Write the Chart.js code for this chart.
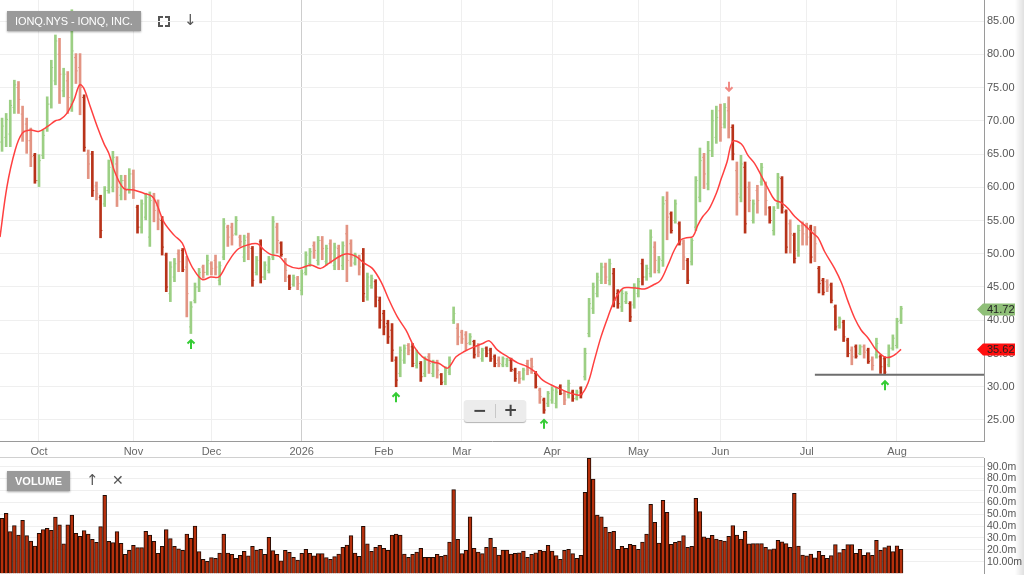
<!DOCTYPE html>
<html>
<head>
<meta charset="utf-8">
<title>IONQ.NYS - IONQ, INC.</title>
<script src="https://cdn.jsdelivr.net/npm/chart.js@4.4.1/dist/chart.umd.min.js"></script>
<style>
  html, body { margin: 0; padding: 0; background: #fff; overflow: hidden; }
  body { width: 1024px; height: 575px; font-family: "Liberation Sans", Arial, sans-serif; }
  #wrap { position: relative; width: 1024px; height: 575px; }
  #priceCanvas { position: absolute; left: 0; top: 0; }
  #volCanvas { position: absolute; left: 0; top: 458px; }
  .badge {
    position: absolute; background: #9a9a9a; color: #fff; font-size: 11px; letter-spacing: -0.1px;
    height: 20px; line-height: 20px; padding: 0 8px;
    box-shadow: 0 1px 2px rgba(0,0,0,0.35);
  }
  .icon { position: absolute; color: #555; font-family: "DejaVu Sans", sans-serif; }
  .corner { position: absolute; width: 3px; height: 3px; border-color: #555; border-style: solid; border-width: 0; }
  #zoomBox {
    position: absolute; left: 464px; top: 400px; width: 62px; height: 22px;
    background: #ececec; border-radius: 3px; box-shadow: 0 1px 1px rgba(0,0,0,0.3);
    font-family: "DejaVu Sans", sans-serif; font-weight: bold; color: #444; font-size: 17px;
  }
  #zoomBox span { position: absolute; top: -1px; width: 31px; text-align: center; line-height: 22px; }
  #zoomBox i { position: absolute; left: 31px; top: 4px; width: 1px; height: 14px; background: #c8c8c8; }
  #sep { position: absolute; left: 0; top: 457px; width: 984px; height: 1px; background: #d0d0d0; }
  #edge { position: absolute; left: 1015px; top: 0; width: 9px; height: 575px;
          background: linear-gradient(to right, rgba(0,0,0,0), rgba(0,0,0,0.12)); }
</style>
</head>
<body>
<div id="wrap">
  <canvas id="priceCanvas" width="1024" height="458"></canvas>
  <canvas id="volCanvas" width="1024" height="117"></canvas>
  <div id="sep"></div>
  <div id="edge"></div>

  <div class="badge" style="left:7px; top:11px;">IONQ.NYS - IONQ, INC.</div>
  <div class="corner" style="left:158px; top:16px; border-left-width:2px; border-top-width:2px;"></div>
  <div class="corner" style="left:165px; top:16px; border-right-width:2px; border-top-width:2px;"></div>
  <div class="corner" style="left:158px; top:22px; border-left-width:2px; border-bottom-width:2px;"></div>
  <div class="corner" style="left:165px; top:22px; border-right-width:2px; border-bottom-width:2px;"></div>
  <div class="icon" style="left:184px; top:11px; font-size:15px;">↓</div>

  <div id="zoomBox"><span style="left:0;">−</span><i></i><span style="left:31px;">+</span></div>

  <div class="badge" style="left:7px; top:471px; font-weight:bold; letter-spacing:0;">VOLUME</div>
  <div class="icon" style="left:86px; top:471px; font-size:15px;">↑</div>
  <div class="icon" style="left:112px; top:472px; font-size:14px;">✕</div>
</div>

<script>
// ---------- data ----------
// bars are indexed by trading day, 0 = 18 Sep 2025 ... 219 = 4 Aug 2026
const monthIdx = [9, 32, 51, 73, 93, 112, 134, 155, 175, 196, 218];
const monthLabels = ['Oct', 'Nov', 'Dec', '2026', 'Feb', 'Mar', 'Apr', 'May', 'Jun', 'Jul', 'Aug'];

const priceTicks = [25, 30, 35, 40, 45, 50, 55, 60, 65, 70, 75, 80, 85];
const volTicks = [10, 20, 30, 40, 50, 60, 70, 80, 90];
const volTickLabels = ['10.00m', '20.0m', '30.0m', '40.0m', '50.0m', '60.0m', '70.0m', '80.0m', '90.0m'];

const high = [
  70.4,71.1,73.1,76.1,75.9,72.2,70.4,68.9,65.1,64.9,
  68.6,73.6,79.1,82.9,82.4,77.9,77.4,86.7,80.1,80.1,
  73.9,65.6,65.4,60.8,58.8,60.1,64.1,65.4,64.6,61.8,
  61.8,62.8,62.6,57.3,58.1,59.1,59.3,59.1,58.1,55.6,
  50.1,48.8,49.3,50.6,50.8,49.6,42.8,45.6,47.8,48.3,
  49.8,48.8,49.8,48.8,55.3,54.3,54.6,55.6,52.8,52.8,
  53.1,51.1,49.6,52.1,48.8,49.6,55.6,54.6,51.8,49.3,
  46.8,46.8,46.6,47.6,50.3,50.8,51.8,52.6,52.6,51.3,
  52.1,51.6,51.3,51.8,54.3,52.1,50.1,49.8,50.8,47.1,
  46.8,46.1,43.5,41.5,40.0,39.5,34.5,36.0,36.3,36.5,
  36.5,35.5,33.8,34.5,35.0,34.0,34.0,32.0,33.0,34.5,
  42.0,39.5,38.5,38.3,38.0,37.0,36.5,35.8,36.0,35.8,
  34.8,34.5,34.5,34.3,34.3,32.8,32.3,32.8,34.0,34.3,
  32.3,29.8,28.3,29.3,30.0,29.8,30.3,29.3,31.0,29.5,
  29.5,30.0,35.8,43.3,45.6,47.1,48.6,48.6,49.2,47.8,
  44.6,44.6,44.3,42.8,45.5,46.3,49.2,48.3,53.6,51.8,
  49.6,58.6,59.3,56.3,58.1,54.8,52.1,49.3,52.3,61.6,
  65.9,65.1,66.9,71.6,72.2,72.5,72.6,73.6,69.4,63.8,
  64.8,63.8,60.8,58.1,60.3,63.6,60.8,57.1,57.1,62.1,
  61.6,56.6,55.1,53.1,54.3,54.8,54.6,54.3,54.1,48.1,
  46.3,46.1,45.6,42.3,40.5,40.0,37.3,36.0,36.3,36.3,
  36.3,35.8,34.5,37.3,34.8,34.5,36.3,37.8,40.3,42.1
];
const low = [
  65.4,66.1,66.1,71.1,71.1,66.9,65.1,63.1,60.6,60.1,
  64.3,68.4,71.9,75.4,72.6,73.6,71.1,71.4,75.6,70.9,
  65.4,61.3,58.6,58.1,52.4,57.1,59.1,59.3,57.1,58.1,
  58.1,59.1,58.3,53.1,53.1,55.1,51.1,54.8,53.6,49.8,
  44.3,42.8,45.8,47.3,47.3,40.5,38.0,42.6,44.3,46.3,
  46.8,46.8,46.8,45.3,49.1,51.1,51.3,52.8,51.1,48.8,
  49.1,45.1,46.8,45.6,46.1,47.1,49.1,50.1,49.6,45.8,
  44.6,45.1,44.6,43.8,46.8,48.1,49.3,48.3,49.1,48.3,
  48.6,47.6,47.6,47.6,45.8,48.1,48.3,46.8,42.8,43.0,
  44.8,42.0,38.8,37.8,36.5,33.8,30.0,31.5,33.5,34.8,
  33.0,32.8,30.8,31.5,32.0,31.5,31.3,30.3,30.3,31.8,
  39.5,36.3,36.5,35.5,36.3,34.3,34.5,33.8,34.5,33.8,
  33.0,33.0,33.0,33.0,32.3,30.8,30.5,31.0,31.8,32.0,
  29.8,27.5,26.0,27.0,27.5,26.8,28.8,27.3,28.3,27.8,
  28.0,28.3,31.0,37.5,41.0,43.5,45.5,45.5,45.3,42.0,
  41.8,41.3,42.5,39.8,41.8,43.5,45.3,46.0,46.5,47.1,
  47.1,48.1,52.1,53.1,54.6,51.3,47.6,45.5,48.3,53.5,
  57.8,59.8,59.6,64.6,66.6,66.9,68.9,67.4,64.1,55.8,
  57.8,53.1,56.3,54.6,56.1,60.3,55.8,54.6,52.8,56.8,
  56.1,50.1,50.1,48.6,49.6,51.3,51.3,48.6,48.8,44.1,
  43.8,44.3,42.6,38.5,38.8,36.8,34.5,33.3,34.3,34.8,
  34.3,33.5,32.5,34.3,32.0,31.8,33.0,35.5,35.8,39.5
];
const open = [
  66.8,67.5,68.0,72.0,75.0,71.0,69.5,67.0,64.8,61.0,
  64.8,68.8,72.5,76.0,80.0,74.5,76.0,72.5,79.5,78.0,
  73.5,65.0,65.0,60.2,58.5,57.5,59.5,60.0,63.5,58.8,
  61.0,59.8,62.0,57.0,54.0,55.5,52.5,58.5,57.2,55.0,
  49.8,44.0,46.5,50.0,50.5,48.0,39.0,43.0,45.0,48.0,
  47.2,48.5,49.0,46.0,49.5,54.0,54.0,53.0,52.5,49.5,
  52.5,50.8,47.2,51.8,46.5,47.5,49.5,54.0,51.6,48.8,
  46.5,45.4,46.2,44.5,47.2,48.5,51.2,49.0,52.0,48.8,
  51.5,48.2,50.8,48.2,53.0,51.5,48.6,49.5,50.0,43.5,
  45.2,45.8,43.0,41.0,39.5,38.5,34.0,32.0,34.0,36.2,
  36.0,33.2,33.5,32.0,34.5,32.0,33.5,31.8,30.8,32.2,
  40.0,38.8,38.2,37.8,36.6,36.8,36.0,34.2,35.8,35.5,
  34.5,34.0,33.3,33.3,34.0,32.5,32.0,31.3,33.5,34.0,
  32.0,29.5,28.0,27.5,28.0,27.5,30.0,29.0,28.8,29.2,
  28.3,29.8,31.5,38.0,41.8,44.0,46.0,48.0,46.0,47.0,
  44.0,42.0,42.8,42.5,42.3,44.0,48.5,46.5,47.0,51.0,
  47.5,49.0,58.0,56.0,55.0,54.5,51.5,49.0,48.8,54.0,
  58.5,64.5,60.5,65.5,67.5,71.5,69.5,71.5,69.0,62.5,
  58.5,63.0,60.0,55.0,59.5,60.8,60.5,56.9,53.5,57.5,
  61.3,56.3,54.5,52.8,50.5,54.2,54.0,54.0,53.5,47.8,
  46.0,45.8,45.3,42.0,39.2,39.7,37.0,35.5,36.0,35.0,
  36.0,35.5,34.0,34.8,34.5,34.2,33.3,35.8,36.2,40.0
];
const close = [
  69.2,70.2,72.3,75.4,73.2,68.5,67.0,64.6,61.0,64.0,
  67.8,72.5,78.0,82.0,77.0,77.0,73.5,80.5,77.5,75.0,
  66.0,63.5,59.5,59.0,53.5,59.5,63.0,64.5,60.0,61.0,
  59.5,62.0,60.0,54.0,57.5,58.5,58.0,56.5,55.2,51.0,
  45.0,48.0,48.5,48.8,47.6,44.0,42.0,45.0,47.2,47.2,
  49.0,47.8,48.0,48.2,54.5,52.5,52.8,55.0,51.8,52.0,
  51.0,46.0,49.0,46.5,48.3,49.2,54.8,52.0,49.9,47.5,
  44.9,46.4,45.5,47.0,49.8,50.3,50.5,52.0,50.8,50.8,
  50.0,51.0,49.5,51.2,49.0,49.5,49.8,48.0,44.0,46.5,
  46.3,43.5,40.0,39.0,37.5,35.5,31.0,35.5,35.8,35.5,
  33.5,35.0,31.5,34.0,33.5,33.5,32.5,30.6,32.5,34.0,
  41.0,37.5,37.2,36.5,37.5,34.8,35.2,35.5,35.0,34.2,
  33.5,33.5,34.2,34.0,32.6,31.2,31.2,32.5,32.5,33.0,
  30.0,28.5,26.5,29.0,29.5,29.2,29.0,28.0,30.5,28.2,
  29.2,28.8,35.0,42.5,45.0,46.5,48.0,46.5,48.5,43.0,
  42.5,44.0,44.0,40.5,45.0,45.8,46.5,47.8,52.5,49.0,
  49.2,57.5,55.5,53.5,57.5,51.8,49.5,46.0,52.0,61.0,
  64.0,62.0,65.5,70.0,70.5,69.0,72.0,69.0,65.0,59.0,
  63.5,54.5,58.0,57.5,58.0,63.0,58.0,55.0,56.5,61.5,
  57.0,51.0,53.0,49.3,53.5,53.0,52.5,49.5,51.5,45.5,
  44.2,45.0,43.0,39.0,40.2,37.5,35.0,34.5,34.6,36.0,
  35.2,33.8,33.2,36.5,33.0,32.2,35.8,37.3,39.8,41.72
];
// volume in millions
const volume = [
  46.5,50.7,35.3,40.3,32.4,44.8,31.9,27.4,23.2,33.9,
  36.9,38.1,36.4,47.6,40.9,24.9,40.9,49.3,33.9,31.3,
  36.1,33.3,28.8,26.3,39.5,65.8,27.1,26.0,35.3,25.4,
  16.2,19.5,23.7,21.8,21.8,35.5,32.4,27.1,17.0,22.9,
  36.9,29.4,22.9,20.7,19.5,33.3,29.6,40.0,18.4,12.0,
  10.3,13.4,12.8,17.3,33.3,17.3,16.2,12.8,15.3,18.7,
  14.8,22.9,19.8,20.4,16.2,30.5,19.3,16.2,10.6,19.5,
  17.8,13.6,11.4,17.0,20.4,17.0,14.8,16.7,16.7,13.4,
  12.0,14.2,16.4,22.0,24.0,31.9,17.3,14.4,39.7,24.9,
  18.7,22.1,23.7,21.2,19.5,32.4,33.3,32.4,16.4,13.6,
  16.2,18.1,21.2,13.6,13.6,13.6,16.2,14.4,15.6,26.5,
  70.6,28.8,16.7,19.5,47.8,21.2,18.1,16.7,22.1,29.6,
  22.1,15.6,19.8,19.8,16.4,17.0,17.5,18.9,13.6,16.2,
  17.5,19.5,18.9,23.7,18.9,15.0,12.0,19.5,20.4,16.7,
  12.8,15.3,68.4,97.0,79.6,49.3,47.8,38.9,34.7,35.5,
  20.4,22.9,21.2,24.6,23.7,20.4,26.5,33.3,58.3,43.1,
  25.7,61.7,51.5,24.6,26.3,27.4,31.9,22.1,22.9,63.3,
  52.1,30.8,29.9,32.2,29.1,28.0,27.4,31.3,40.3,32.4,
  29.1,35.5,24.9,25.2,25.2,25.2,22.1,20.1,20.7,28.0,
  26.6,25.2,22.1,67.5,23.2,15.6,14.8,16.4,13.1,18.7,
  15.3,12.8,15.0,24.3,17.6,20.4,24.3,24.3,17.0,20.4,
  15.3,17.6,15.3,28.0,19.5,21.8,23.4,18.4,23.4,20.4
];

// moving average line, read at selected points (x = bar index)
const maIdx = [
  -0.5, 1.2, 3.2, 4.9, 6.9, 8.9, 11, 13, 14.2, 15.8, 17.5, 18.9, 19.9, 21.5, 23.2, 24.8, 26, 27.6, 29.7, 32.1,
  34.5, 36.6, 37.8, 39.4, 41.9, 43.9, 45.1, 46.7, 48.8, 50.8, 52.8, 54.9, 57.3, 59.7, 62.2, 63.8, 65.4, 67.5, 69.5, 72.3,
  75.2, 77.6, 79.7, 82.5, 84.1, 86.2, 88.2, 90.2, 92.3, 94.3, 96.3, 98.4, 100.4, 102.4, 104.5, 106.5, 108.5, 110.6, 112.6, 115,
  117.1, 118.7, 120.7, 123.2, 125.6, 127.7, 129.7, 131.7, 133.7, 136.2, 138.6, 141, 142.7, 144.3, 145.9, 147.6, 149.2, 151.2, 153.3, 154.9,
  156.5, 158.6, 160.4, 162.2, 163.8, 165.4, 166.7, 168.3, 169.5, 170.7, 172.2, 174, 175.2, 176.6, 178, 180.1, 181.7, 183.3, 184.9, 186.6,
  188.2, 189.8, 191.5, 193.1, 195.5, 197.5, 198.8, 200.4, 202.8, 204.5, 206.1, 207.7, 209.3, 211, 212.6, 214.2, 215.4, 216.6, 217.9, 219
];
const maVal = [
  52.5, 60.1, 65.6, 68.1, 68.6, 68.4, 69.1, 70.0, 70.2, 71.1, 73.1, 75.4, 74.9, 72.1, 69.1, 66.6, 65.1, 62.1, 59.8, 59.6,
  59.1, 58.6, 57.3, 54.8, 52.8, 51.6, 49.6, 47.6, 46.1, 46.5, 46.5, 48.6, 50.6, 51.3, 51.5, 50.6, 49.9, 49.6, 48.3, 47.8,
  48.3, 47.8, 48.6, 49.7, 50.0, 49.6, 48.6, 47.8, 45.8, 43.0, 40.5, 38.5, 36.0, 34.5, 33.8, 33.5, 32.8, 34.5, 35.3, 36.0,
  36.5, 36.9, 35.5, 34.5, 33.6, 33.1, 32.3, 31.0, 30.3, 29.6, 29.0, 28.8, 30.5, 34.0, 37.5, 40.5, 43.0, 44.8, 44.9, 44.8,
  44.7, 45.3, 46.0, 48.3, 50.6, 52.1, 52.4, 52.6, 54.3, 55.6, 56.7, 59.1, 61.3, 63.8, 66.9, 66.5, 64.8, 63.6, 61.8, 59.8,
  58.1, 57.7, 56.8, 55.6, 54.3, 53.1, 52.4, 50.3, 47.8, 45.6, 42.8, 40.3, 38.5, 37.3, 35.8, 34.8, 34.4, 34.5, 35.0, 35.62
];

const buySignals = [46, 96, 132, 215];
const sellSignals = [177];
const supportLevel = 31.8;
const supportFrom = 198;

// ---------- styling helpers ----------
const X_MIN = -0.5, X_MAX = 239.2;
const FONT = '"Liberation Sans", Arial, sans-serif';
const GREEN = '#9ccf84', RED_DARK = '#b8331a', RED_LIGHT = '#e39483';

const barColors = close.map((c, i) => {
  if (c >= open[i]) return GREEN;
  return (open[i] - c) > 0.5 * (high[i] - low[i]) ? RED_DARK : RED_LIGHT;
});

function fixedWidth(w) {
  return (scale) => { scale.width = w; scale.paddingTop = 0; scale.paddingBottom = 0; };
}

// small arrow marker: dir -1 points up, +1 points down; tipY is the arrow head
function drawArrow(ctx, x, tipY, dir, color) {
  ctx.strokeStyle = color;
  ctx.lineWidth = 2;
  ctx.lineCap = 'butt';
  ctx.beginPath();
  ctx.moveTo(x, tipY);
  ctx.lineTo(x, tipY - dir * 9);
  ctx.moveTo(x - 3.5, tipY - dir * 3.5);
  ctx.lineTo(x, tipY);
  ctx.lineTo(x + 3.5, tipY - dir * 3.5);
  ctx.stroke();
}

// ---------- price chart ----------
const markers = {
  id: 'markers',
  afterDatasetsDraw(chart) {
    const { ctx, scales: { x, y } } = chart;
    ctx.save();
    buySignals.forEach(i => drawArrow(ctx, Math.round(x.getPixelForValue(i)), y.getPixelForValue(low[i]) + 6.5, -1, '#35cc35'));
    sellSignals.forEach(i => drawArrow(ctx, Math.round(x.getPixelForValue(i)), y.getPixelForValue(high[i]) - 6, 1, '#f28a84'));
    ctx.restore();
  },
  afterDraw(chart) {
    const { ctx, scales: { y }, chartArea } = chart;
    const tag = (val, bg) => {
      const py = Math.round(y.getPixelForValue(val)) + 0.5;
      const r = chartArea.right;
      ctx.beginPath();
      ctx.moveTo(r - 7, py);
      ctx.lineTo(r - 1, py - 6);
      ctx.lineTo(r + 31, py - 6);
      ctx.lineTo(r + 31, py + 6);
      ctx.lineTo(r - 1, py + 6);
      ctx.closePath();
      ctx.fillStyle = bg;
      ctx.fill();
      ctx.fillStyle = '#222';
      ctx.font = '11px ' + FONT;
      ctx.textAlign = 'left';
      ctx.textBaseline = 'middle';
      ctx.fillText(val.toFixed(2), r + 3, py + 0.5);
    };
    ctx.save();
    tag(close[close.length - 1], '#8fbf78');
    tag(maVal[maVal.length - 1], '#ff1010');
    ctx.restore();
  }
};

new Chart(document.getElementById('priceCanvas'), {
  type: 'bar',
  data: {
    datasets: [
      {
        type: 'bar',
        data: high.map((h, i) => ({ x: i, y: [low[i], h] })),
        backgroundColor: barColors,
        barThickness: 2,
        grouped: false,
        order: 3
      },
      {
        type: 'scatter',
        data: open.map((v, i) => ({ x: i, y: v })),
        pointStyle: 'dash',
        rotation: 180,
        radius: 1.8,
        borderWidth: 1,
        borderColor: barColors,
        order: 2
      },
      {
        type: 'scatter',
        data: close.map((v, i) => ({ x: i, y: v })),
        pointStyle: 'dash',
        rotation: 0,
        radius: 1.8,
        borderWidth: 1,
        borderColor: barColors,
        order: 2
      },
      {
        type: 'line',
        data: maIdx.map((x, k) => ({ x, y: maVal[k] })),
        borderColor: '#ff4040',
        borderWidth: 1.5,
        pointRadius: 0,
        tension: 0.35,
        order: 1
      },
      {
        type: 'line',
        data: [{ x: supportFrom, y: supportLevel }, { x: X_MAX, y: supportLevel }],
        borderColor: '#6e6e6e',
        borderWidth: 2,
        pointRadius: 0,
        order: 0
      }
    ]
  },
  options: {
    responsive: false,
    animation: false,
    layout: { padding: 0, autoPadding: false },
    plugins: { legend: { display: false }, tooltip: { enabled: false } },
    scales: {
      x: {
        type: 'linear',
        min: X_MIN,
        max: X_MAX,
        offset: false,
        afterBuildTicks: (s) => { s.ticks = monthIdx.map(v => ({ value: v })); },
        afterFit: (s) => { s.height = 17; s.paddingLeft = 0; s.paddingRight = 0; },
        grid: {
          offset: false,
          drawTicks: false,
          color: (c) => (c.tick && c.tick.value === 73) ? '#cdcdcd' : '#efefef'
        },
        border: { color: '#9a9a9a' },
        ticks: {
          autoSkip: false,
          maxRotation: 0,
          padding: 4,
          color: '#666',
          font: { family: FONT, size: 11 },
          callback: (v, i) => monthLabels[i]
        }
      },
      y: {
        position: 'right',
        min: 21.84,
        max: 88.16,
        afterBuildTicks: (s) => { s.ticks = priceTicks.map(v => ({ value: v })); },
        afterFit: fixedWidth(40),
        grid: { drawTicks: false, color: '#efefef' },
        border: { color: '#9a9a9a' },
        ticks: {
          padding: 3,
          color: '#555',
          font: { family: FONT, size: 11 },
          callback: (v) => Number(v).toFixed(2)
        }
      }
    }
  },
  plugins: [markers]
});

// ---------- volume chart ----------
new Chart(document.getElementById('volCanvas'), {
  type: 'bar',
  data: {
    datasets: [{
      data: volume.map((v, i) => ({ x: i, y: v })),
      backgroundColor: '#b7300c',
      borderColor: '#200b04',
      borderWidth: 1,
      barThickness: 3.8
    }]
  },
  options: {
    responsive: false,
    animation: false,
    layout: { padding: { bottom: 1.5 }, autoPadding: false },
    plugins: { legend: { display: false }, tooltip: { enabled: false } },
    scales: {
      x: { type: 'linear', min: X_MIN, max: X_MAX, offset: false, display: false, grid: { offset: false } },
      y: {
        position: 'right',
        min: 0,
        max: 97.3,
        afterBuildTicks: (s) => { s.ticks = volTicks.map(v => ({ value: v })); },
        afterFit: fixedWidth(40),
        grid: { drawTicks: false, color: '#efefef' },
        border: { color: '#9a9a9a' },
        ticks: {
          autoSkip: false,
          padding: 3,
          color: '#555',
          font: { family: FONT, size: 10.5 },
          callback: (v, i) => volTickLabels[i]
        }
      }
    }
  }
});
</script>
</body>
</html>
